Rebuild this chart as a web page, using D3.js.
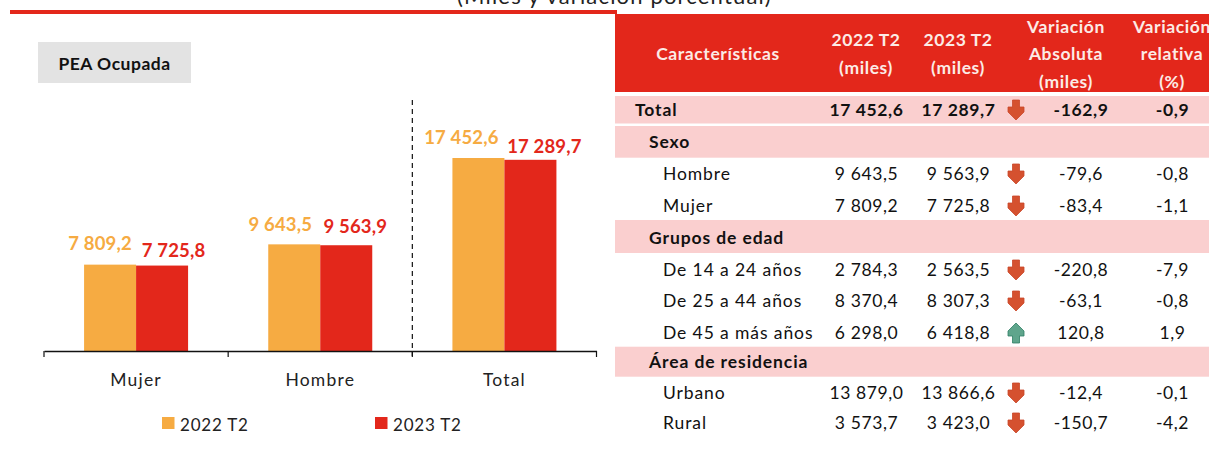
<!DOCTYPE html>
<html><head><meta charset="utf-8">
<script src="https://cdn.jsdelivr.net/npm/d3@7/dist/d3.min.js"></script>
<style>html,body{margin:0;padding:0;background:#fff;overflow:hidden}svg{display:block}text{font-family:Lato,Carlito,"Open Sans",sans-serif}</style>
</head><body><svg id="c" width="1209" height="460"></svg>
<script>
// DATA
const categories = ["Mujer","Hombre","Total"];
const seriesNames = ["2022 T2","2023 T2"];
const values2022 = [7809.2,9643.5,17452.6];
const values2023 = [7725.8,9563.9,17289.7];
const rowLabels = ["Total","Sexo","Hombre","Mujer","Grupos de edad","De 14 a 24 años","De 25 a 44 años","De 45 a más años","Área de residencia","Urbano","Rural"];
const rowKinds = ["total","group","item","item","group","item","item","item","group","item","item"];
const col2022 = ["17 452,6","","9 643,5","7 809,2","","2 784,3","8 370,4","6 298,0","","13 879,0","3 573,7"];
const col2023 = ["17 289,7","","9 563,9","7 725,8","","2 563,5","8 307,3","6 418,8","","13 866,6","3 423,0"];
const colAbs = ["-162,9","","-79,6","-83,4","","-220,8","-63,1","120,8","","-12,4","-150,7"];
const colRel = ["-0,9","","-0,8","-1,1","","-7,9","-0,8","1,9","","-0,1","-4,2"];
const fmt = v => d3.format(",.1f")(v).replace(",", " ").replace(".", ",");

// LAYOUT
const ORANGE="#F6AB42", RED="#E3271B", PINK="#FACFCF";
const svg=d3.select("#c");
const axisY=351, axisX0=44, axisX1=596.5, barW=52;
const x=d3.scaleBand().domain(categories).range([axisX0,axisX1]);
const y=d3.scaleLinear().domain([0,17452.6]).range([axisY,158]);
// hand-placed data-label nudges (dx from bar centre, dy above bar top)
const nudges=[[[-10,-15],[11.5,-9]],[[-14,-13],[9,-12]],[[-17,-14],[14,-7]]];

svg.append("text").attr("x",614.5).attr("y",4).attr("text-anchor","middle")
  .attr("font-size",22).attr("letter-spacing","1.17").attr("fill","#222").text("(Miles y variación porcentual)");
svg.append("rect").attr("x",10).attr("y",10).attr("width",607).attr("height",4).attr("fill",RED);

svg.append("rect").attr("x",38).attr("y",42).attr("width",153).attr("height",41).attr("fill","#E3E3E3");
svg.append("text").attr("x",114.5).attr("y",70).attr("text-anchor","middle").attr("font-size",17.5).attr("font-weight",700).attr("letter-spacing",".5").attr("fill","#111").text("PEA Ocupada");

[values2022,values2023].forEach((vals,s)=>{
  const col=s?RED:ORANGE;
  svg.append("g").selectAll("rect").data(vals).join("rect")
    .attr("x",(d,i)=>x(categories[i])+x.bandwidth()/2-(s?0:barW))
    .attr("y",d=>y(d)).attr("width",barW).attr("height",d=>axisY-y(d)).attr("fill",col);
  svg.append("g").selectAll("text").data(vals).join("text")
    .attr("x",(d,i)=>x(categories[i])+x.bandwidth()/2+(s?barW/2:-barW/2)+nudges[i][s][0])
    .attr("y",(d,i)=>y(d)+nudges[i][s][1])
    .attr("text-anchor","middle").attr("font-size",18.5).attr("font-weight",700).attr("letter-spacing",".15").attr("fill",col).text(fmt);
});

// axis
const ax=svg.append("g").attr("transform",`translate(0,${axisY})`).call(d3.axisBottom(x).tickSize(0).tickPadding(0));
ax.select(".domain").attr("stroke","#111").attr("stroke-width",1.5);
ax.selectAll("text").attr("y",35).attr("dy",0).attr("font-size",17.5).attr("letter-spacing","1.2").attr("fill","#222").style("font-family","Lato");
const edges=categories.map(c=>x(c)).concat([axisX1]);
svg.append("g").selectAll("line").data(edges).join("line")
  .attr("x1",d=>d).attr("x2",d=>d).attr("y1",axisY).attr("y2",axisY+6).attr("stroke","#111").attr("stroke-width",1.2);
svg.append("line").attr("x1",x("Total")).attr("x2",x("Total")).attr("y1",100).attr("y2",axisY+5)
  .attr("stroke","#111").attr("stroke-width",1.2).attr("stroke-dasharray","5 4");

// legend
[162,375].forEach((lx,i)=>{
  svg.append("rect").attr("x",lx).attr("y",417).attr("width",12.5).attr("height",12).attr("fill",i?RED:ORANGE);
  svg.append("text").attr("x",lx+18).attr("y",431).attr("font-size",17).attr("letter-spacing",".8").attr("fill","#222").text(seriesNames[i]);
});

// table
const TX=615, TW=594;
svg.append("rect").attr("x",TX).attr("y",14).attr("width",TW).attr("height",78).attr("fill",RED);
const head=(cx,lines,ys)=>lines.forEach((t,i)=>svg.append("text").attr("x",cx).attr("y",ys[i]).attr("text-anchor","middle")
  .attr("font-size",17.5).attr("font-weight",700).attr("letter-spacing",".6").attr("fill","#FCEBE6").text(t));
head(718,["Características"],[60]);
head(866,["2022 T2","(miles)"],[46,74]);
head(958,["2023 T2","(miles)"],[46,74]);
head(1066,["Variación","Absoluta","(miles)"],[33,60,88]);
head(1172,["Variación","relativa","(%)"],[33,60,88]);

const bands=[[96,27.5],[126,31.7],[220,33],[346.7,30]];
bands.forEach(b=>svg.append("rect").attr("x",TX).attr("y",b[0]).attr("width",TW).attr("height",b[1]).attr("fill",PINK));
const rowY=[116,148,180,212,244,276,307,339,368,399,429];
const cols=[[col2022,866.5],[col2023,958.5],[colAbs,1081],[colRel,1172.5]];
rowLabels.forEach((lab,i)=>{
  const k=rowKinds[i], bold=k!=="item";
  svg.append("text").attr("x",k==="total"?635:k==="group"?649:663).attr("y",rowY[i])
    .attr("font-size",17.5).attr("font-weight",bold?700:400).attr("letter-spacing",".9").attr("fill","#111").text(lab);
  cols.forEach(([c,cx])=>{ if(c[i]) svg.append("text").attr("x",cx).attr("y",rowY[i]).attr("text-anchor","middle")
    .attr("font-size",17.5).attr("font-weight",bold?700:400).attr("letter-spacing",".6").attr("fill","#111").text(c[i]); });
  if(col2022[i]){
    const up=parseFloat(colAbs[i].replace(",","."))>0;
    const p="M-3.5,-10 L3.5,-10 L3.5,-3 L8,-3 L8,2 L0,10 L-8,2 L-8,-3 L-3.5,-3 Z";
    svg.append("path").attr("d",p)
      .attr("transform",`translate(1016,${rowY[i]-6}) ${up?"rotate(180)":""}`)
      .attr("fill",up?"#5FA58C":"#D5512F").attr("stroke",up?"#2F7F65":"#C9482A").attr("stroke-width",.8);
  }
});
</script></body></html>
